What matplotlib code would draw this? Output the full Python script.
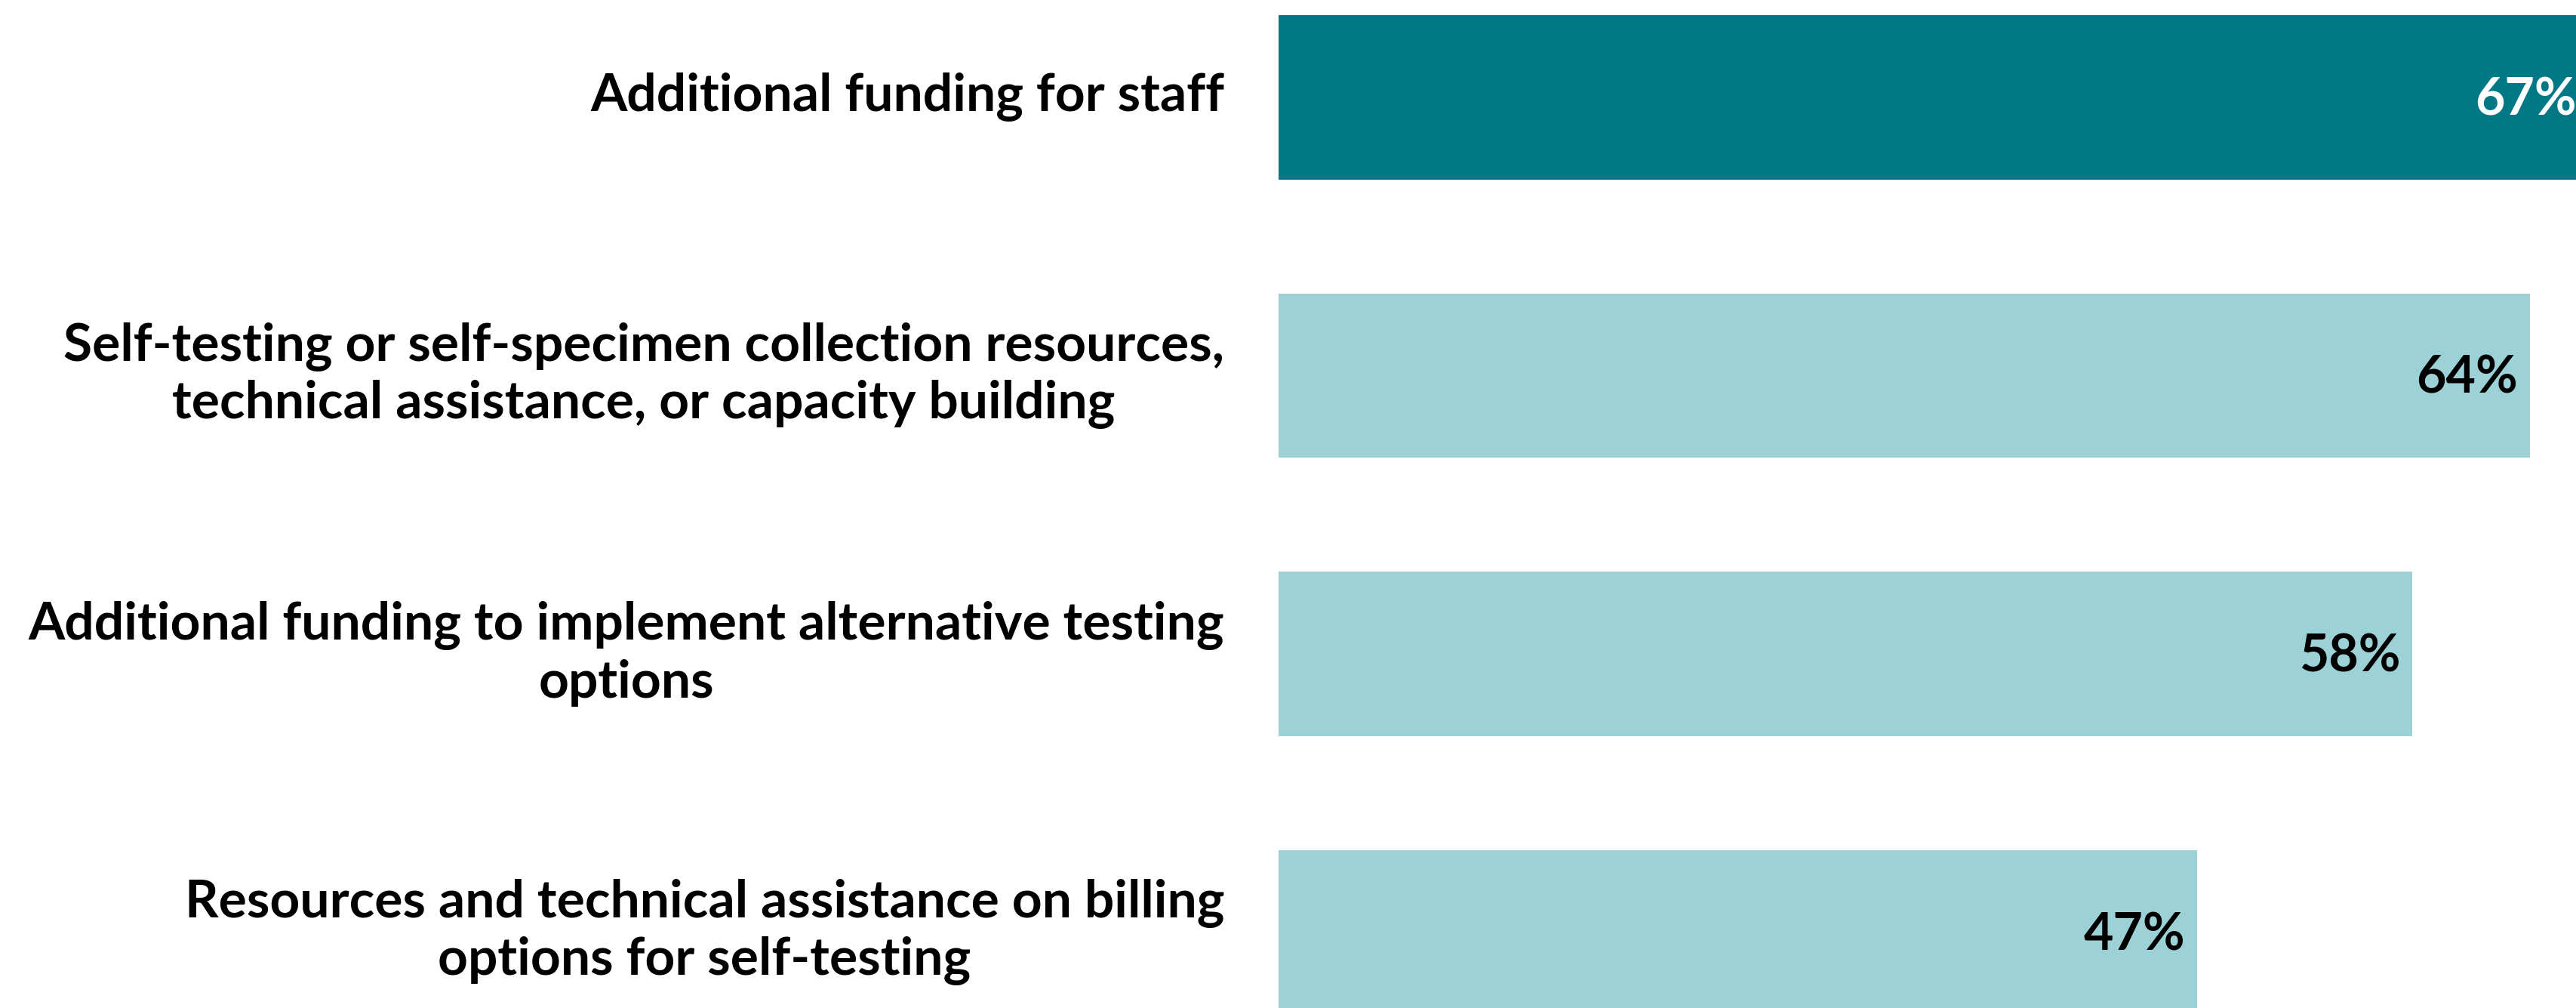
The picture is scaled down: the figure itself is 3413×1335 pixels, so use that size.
import matplotlib
matplotlib.use("Agg")
import matplotlib.pyplot as plt

categories = [
    "Additional funding for staff",
    "Self-testing or self-specimen collection resources,\ntechnical assistance, or capacity building",
    "Additional funding to implement alternative testing\noptions",
    "Resources and technical assistance on billing\noptions for self-testing",
]
values = [67, 64, 58, 47]
bar_colors = ["#007886", "#9CD2D7", "#9CD2D7", "#9CD2D7"]
label_colors = ["white", "black", "black", "black"]

W, H, DPI = 3413, 1335, 100
fig = plt.figure(figsize=(W / DPI, H / DPI), dpi=DPI)
ax = fig.add_axes([1694 / W, 0, 1 - 1694 / W, 1])

font = "Lato"
fs = 50
pos = list(range(len(values)))
ax.barh(pos, values, height=0.59, color=bar_colors, edgecolor="none")
ax.set_xlim(0, 66.37)
ax.set_ylim(3.2727, -0.35)
ax.axis("off")

for y, v, c in zip(pos, values, label_colors):
    ax.annotate(f"{v}%", xy=(v, y), xytext=(-16, -4), textcoords="offset pixels",
                ha="right", va="center", fontsize=49, fontweight="bold",
                color=c, family=font, annotation_clip=False, clip_on=False)

for y, lab in zip(pos, categories):
    ax.annotate(lab, xy=(0, y), xytext=(-72, 0), textcoords="offset pixels",
                ha="right", va="center", multialignment="center",
                fontsize=fs, fontweight="bold", color="black", family=font,
                linespacing=1.22, annotation_clip=False)

fig.savefig("out.png", dpi=DPI)
